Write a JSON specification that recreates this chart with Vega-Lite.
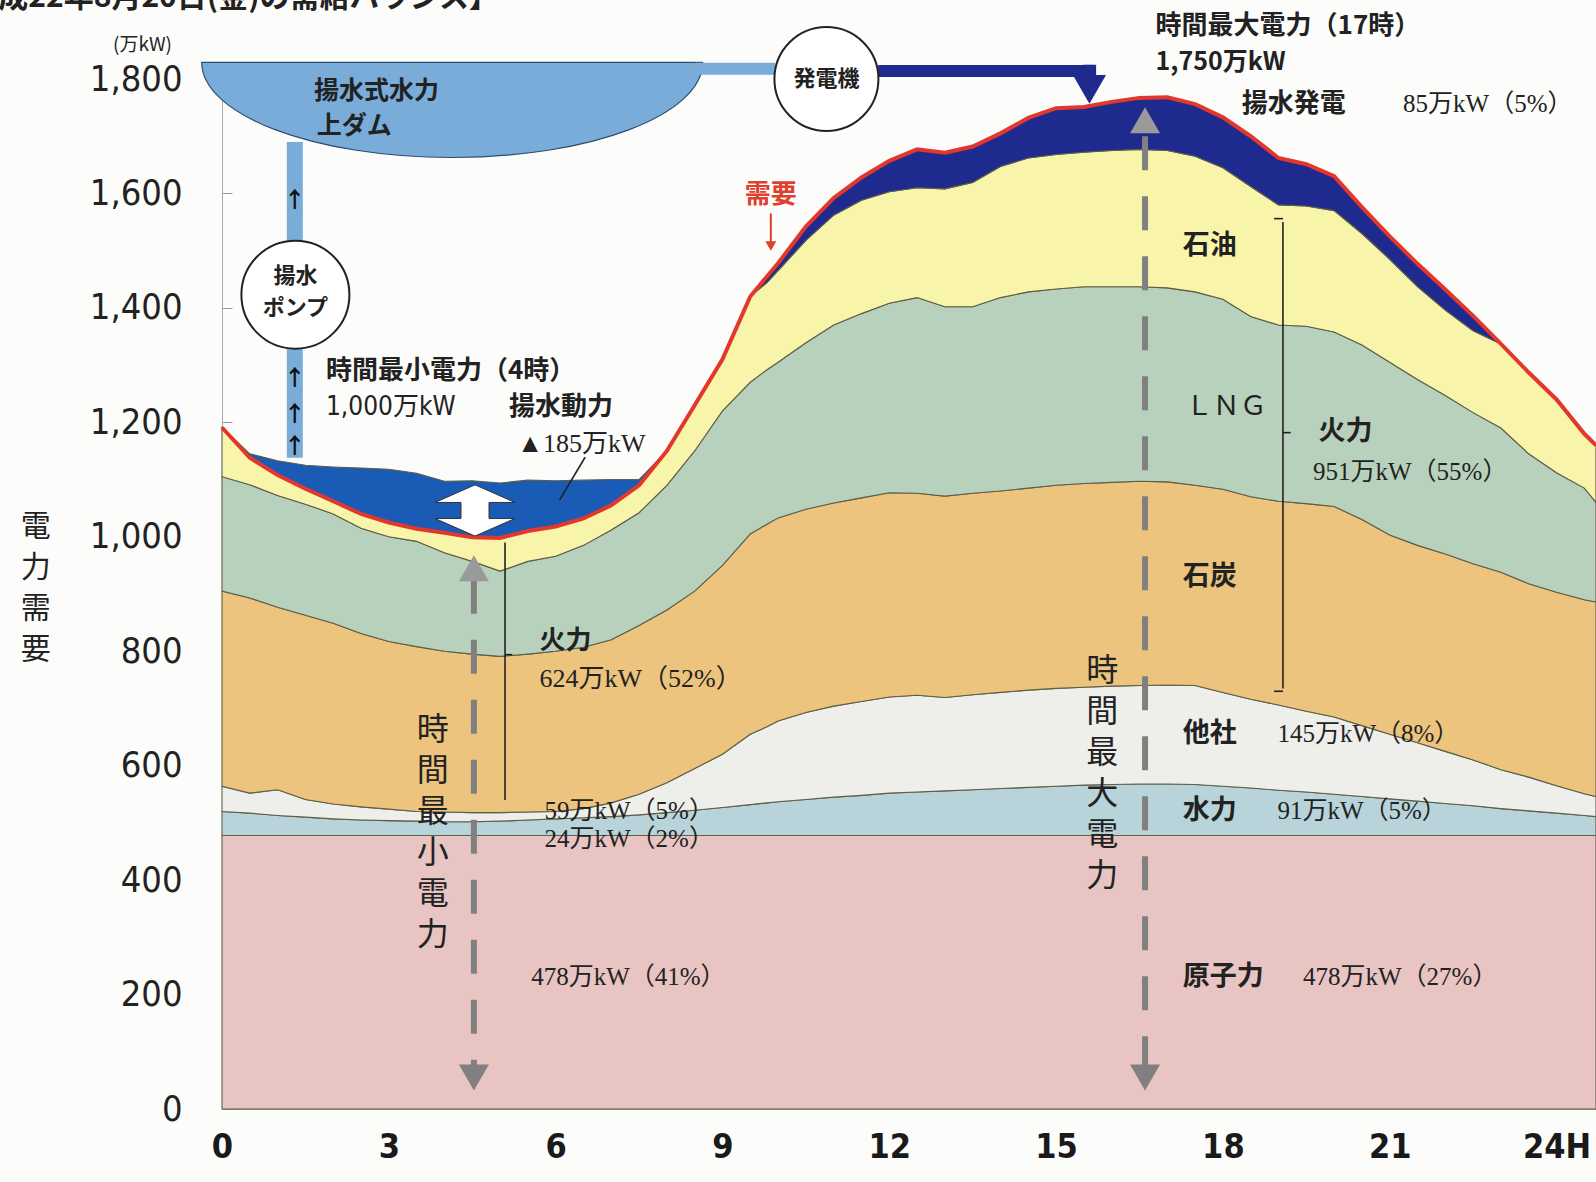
{
  "$schema": "https://vega.github.io/schema/vega-lite/v6.json",
  "width": 1374,
  "height": 1030,
  "autosize": {"type": "none"},
  "padding": {"left": 222, "top": 79, "right": 0, "bottom": 73},
  "background": "#fcfcfa",
  "datasets": {
    "grid": [
      {"h": 0, "原子力": 478, "水力": 42, "他社": 44, "石炭": 341, "LNG": 200, "石油": 86, "揚水発電": 0, "揚水動力": 0, "需要": 1191},
      {"h": 0.5, "原子力": 478, "水力": 39, "他社": 35, "石炭": 341, "LNG": 198, "石油": 47, "揚水発電": 0, "揚水動力": 7, "需要": 1138},
      {"h": 1, "原子力": 478, "水力": 35, "他社": 45, "石炭": 319, "LNG": 195, "石油": 36, "揚水発電": 0, "揚水動力": 25, "需要": 1108},
      {"h": 1.5, "原子力": 478, "水力": 32, "他社": 31, "石炭": 322, "LNG": 194, "石油": 27, "揚水発電": 0, "揚水動力": 41, "需要": 1084},
      {"h": 2, "原子力": 478, "水力": 29, "他社": 26, "石炭": 316, "LNG": 191, "石油": 22, "揚水発電": 0, "揚水動力": 60, "需要": 1062},
      {"h": 2.5, "原子力": 478, "水力": 27, "他社": 23, "石炭": 303, "LNG": 184, "石油": 25, "揚水発電": 0, "揚水動力": 80, "需要": 1040},
      {"h": 3, "原子力": 478, "水力": 26, "他社": 20, "石炭": 293, "LNG": 183, "石油": 25, "揚水発電": 0, "揚水動力": 93, "需要": 1025},
      {"h": 3.5, "原子力": 478, "水力": 25, "他社": 17, "石炭": 288, "LNG": 184, "石油": 22, "揚水発電": 0, "揚水動力": 97, "需要": 1014},
      {"h": 4, "原子力": 478, "水力": 24, "他社": 17, "石炭": 281, "LNG": 172, "石油": 35, "揚水発電": 0, "揚水動力": 90, "需要": 1007},
      {"h": 4.5, "原子力": 478, "水力": 24, "他社": 16, "石炭": 277, "LNG": 162, "石油": 42, "揚水発電": 0, "揚水動力": 99, "需要": 999},
      {"h": 5, "原子力": 478, "水力": 25, "他社": 15, "石炭": 273, "LNG": 149, "石油": 58, "揚水発電": 0, "揚水動力": 96, "需要": 998},
      {"h": 5.5, "原子力": 478, "水力": 27, "他社": 14, "石炭": 276, "LNG": 162, "石油": 53, "揚水発電": 0, "揚水動力": 89, "需要": 1010},
      {"h": 6, "原子力": 478, "水力": 29, "他社": 13, "石炭": 280, "LNG": 166, "石油": 52, "揚水発電": 0, "揚水動力": 80, "需要": 1018},
      {"h": 6.5, "原子力": 478, "水力": 31, "他社": 16, "石炭": 282, "LNG": 178, "石油": 47, "揚水発電": 0, "揚水動力": 67, "需要": 1032},
      {"h": 7, "原子力": 478, "水力": 33, "他社": 24, "石炭": 285, "LNG": 192, "石油": 43, "揚水発電": 0, "揚水動力": 45, "需要": 1055},
      {"h": 7.5, "原子力": 478, "水力": 36, "他社": 36, "石炭": 295, "LNG": 197, "石油": 48, "揚水発電": 0, "揚水動力": 10, "需要": 1090},
      {"h": 8, "原子力": 478, "水力": 40, "他社": 52, "石炭": 302, "LNG": 218, "石油": 60, "揚水発電": 0, "揚水動力": 0, "需要": 1150},
      {"h": 8.5, "原子力": 478, "水力": 44, "他社": 73, "石炭": 310, "LNG": 245, "石油": 80, "揚水発電": 0, "揚水動力": 0, "需要": 1230},
      {"h": 9, "原子力": 478, "水力": 49, "他社": 93, "石炭": 330, "LNG": 270, "石油": 90, "揚水発電": 0, "揚水動力": 0, "需要": 1310},
      {"h": 9.5, "原子力": 478, "水力": 54, "他社": 123, "石炭": 350, "LNG": 265, "石油": 150, "揚水発電": 0, "揚水動力": 0, "需要": 1420},
      {"h": 9.8, "原子力": 478, "水力": 57, "他社": 133, "石炭": 354, "LNG": 270, "石油": 152, "揚水発電": 11, "揚水動力": 0, "需要": 1455},
      {"h": 10, "原子力": 478, "水力": 59, "他社": 141, "石炭": 355, "LNG": 272, "石油": 160, "揚水発電": 13, "揚水動力": 0, "需要": 1478},
      {"h": 10.5, "原子力": 478, "水力": 63, "他社": 152, "石炭": 355, "LNG": 291, "石油": 179, "揚水発電": 24, "揚水動力": 0, "需要": 1542},
      {"h": 11, "原子力": 478, "水力": 67, "他社": 159, "石炭": 355, "LNG": 311, "石油": 192, "揚水発電": 30, "揚水動力": 0, "需要": 1592},
      {"h": 11.5, "原子力": 478, "水力": 70, "他社": 164, "石炭": 356, "LNG": 322, "石油": 198, "揚水発電": 40, "揚水動力": 0, "需要": 1628},
      {"h": 12, "原子力": 478, "水力": 74, "他社": 168, "石炭": 357, "LNG": 331, "石油": 195, "揚水発電": 54, "揚水動力": 0, "需要": 1657},
      {"h": 12.5, "原子力": 478, "水力": 76, "他社": 169, "石炭": 353, "LNG": 342, "石油": 192, "揚水発電": 67, "揚水動力": 0, "需要": 1677},
      {"h": 13, "原子力": 478, "水力": 78, "他社": 163, "石炭": 352, "LNG": 331, "石油": 206, "揚水発電": 63, "揚水動力": 0, "需要": 1671},
      {"h": 13.5, "原子力": 478, "水力": 80, "他社": 166, "石炭": 352, "LNG": 326, "石油": 217, "揚水発電": 63, "揚水動力": 0, "需要": 1682},
      {"h": 14, "原子力": 478, "水力": 82, "他社": 168, "石炭": 352, "LNG": 338, "石油": 229, "揚水発電": 58, "揚水動力": 0, "需要": 1705},
      {"h": 14.5, "原子力": 478, "水力": 84, "他社": 170, "石炭": 353, "LNG": 343, "石油": 234, "揚水発電": 70, "揚水動力": 0, "需要": 1732},
      {"h": 15, "原子力": 478, "水力": 86, "他社": 171, "石炭": 355, "LNG": 343, "石油": 235, "揚水発電": 81, "揚水動力": 0, "需要": 1749},
      {"h": 15.5, "原子力": 478, "水力": 88, "他社": 171, "石炭": 356, "LNG": 344, "石油": 235, "揚水発電": 79, "揚水動力": 0, "需要": 1751},
      {"h": 16, "原子力": 478, "水力": 89, "他社": 172, "石炭": 356, "LNG": 342, "石油": 238, "揚水発電": 85, "揚水動力": 0, "需要": 1760},
      {"h": 16.5, "原子力": 478, "水力": 90, "他社": 172, "石炭": 357, "LNG": 340, "石油": 240, "揚水発電": 90, "揚水動力": 0, "需要": 1767},
      {"h": 17, "原子力": 478, "水力": 90, "他社": 173, "石炭": 355, "LNG": 339, "石油": 240, "揚水発電": 93, "揚水動力": 0, "需要": 1768},
      {"h": 17.5, "原子力": 478, "水力": 89, "他社": 173, "石炭": 350, "LNG": 338, "石油": 237, "揚水発電": 91, "揚水動力": 0, "需要": 1756},
      {"h": 18, "原子力": 478, "水力": 86, "他社": 164, "石炭": 355, "LNG": 332, "石油": 230, "揚水発電": 88, "揚水動力": 0, "需要": 1733},
      {"h": 18.5, "原子力": 478, "水力": 83, "他社": 155, "石炭": 354, "LNG": 315, "石油": 227, "揚水発電": 88, "揚水動力": 0, "需要": 1700},
      {"h": 19, "原子力": 478, "水力": 79, "他社": 149, "石炭": 356, "LNG": 308, "石油": 210, "揚水発電": 82, "揚水動力": 0, "需要": 1662},
      {"h": 19.5, "原子力": 478, "水力": 76, "他社": 141, "石炭": 363, "LNG": 310, "石油": 210, "揚水発電": 73, "揚水動力": 0, "需要": 1651},
      {"h": 20, "原子力": 478, "水力": 72, "他社": 135, "石炭": 368, "LNG": 305, "石油": 212, "揚水発電": 60, "揚水動力": 0, "需要": 1630},
      {"h": 20.5, "原子力": 478, "水力": 68, "他社": 124, "石炭": 360, "LNG": 305, "石油": 195, "揚水発電": 46, "揚水動力": 0, "需要": 1576},
      {"h": 21, "原子力": 478, "水力": 64, "他社": 113, "石炭": 348, "LNG": 302, "石油": 180, "揚水発電": 40, "揚水動力": 0, "需要": 1525},
      {"h": 21.5, "原子力": 478, "水力": 60, "他社": 102, "石炭": 345, "LNG": 290, "石油": 162, "揚水発電": 40, "揚水動力": 0, "需要": 1477},
      {"h": 22, "原子力": 478, "水力": 56, "他社": 91, "石炭": 345, "LNG": 277, "石油": 149, "揚水発電": 36, "揚水動力": 0, "需要": 1432},
      {"h": 22.5, "原子力": 478, "水力": 52, "他社": 80, "石炭": 343, "LNG": 264, "石油": 143, "揚水発電": 26, "揚水動力": 0, "需要": 1386},
      {"h": 23, "原子力": 478, "水力": 47, "他社": 68, "石炭": 345, "LNG": 252, "石油": 147, "揚水発電": 0, "揚水動力": 0, "需要": 1337},
      {"h": 23.5, "原子力": 478, "水力": 43, "他社": 59, "石炭": 338, "LNG": 227, "石油": 142, "揚水発電": 0, "揚水動力": 0, "需要": 1287},
      {"h": 24, "原子力": 478, "水力": 39, "他社": 48, "石炭": 338, "LNG": 209, "石油": 128, "揚水発電": 0, "揚水動力": 0, "需要": 1240},
      {"h": 24.5, "原子力": 478, "水力": 35, "他社": 38, "石炭": 339, "LNG": 195, "石油": 95, "揚水発電": 0, "揚水動力": 0, "需要": 1180},
      {"h": 24.71, "原子力": 478, "水力": 33, "他社": 35, "石炭": 340, "LNG": 174, "石油": 100, "揚水発電": 0, "揚水動力": 0, "需要": 1160}
    ],
    "rank": [
      {"src": "原子力", "rank": 1},
      {"src": "水力", "rank": 2},
      {"src": "他社", "rank": 3},
      {"src": "石炭", "rank": 4},
      {"src": "LNG", "rank": 5},
      {"src": "石油", "rank": 6},
      {"src": "揚水発電", "rank": 7},
      {"src": "揚水動力", "rank": 8}
    ]
  },
  "layer": [
    {
      "data": {"name": "grid"},
      "transform": [
        {"fold": ["原子力", "水力", "他社", "石炭", "LNG", "石油", "揚水発電", "揚水動力"], "as": ["src", "mw"]},
        {"lookup": "src", "from": {"data": {"name": "rank"}, "key": "src", "fields": ["rank"]}}
      ],
      "mark": {"type": "area", "interpolate": "linear", "stroke": "#5f5f48", "strokeWidth": 1.1, "fillOpacity": 1},
      "encoding": {
        "x": {
          "field": "h", "type": "quantitative",
          "scale": {"domain": [0, 24.71], "nice": false, "zero": false},
          "title": null,
          "axis": {
            "values": [0, 1, 2, 3, 4, 5, 6, 7, 8, 9, 10, 11, 12, 13, 14, 15, 16, 17, 18, 19, 20, 21, 22, 23, 24],
            "labelExpr": "datum.value == 24 ? '24H' : (datum.value % 3 == 0 ? format(datum.value, 'd') : '')"
          }
        },
        "y": {
          "field": "mw", "type": "quantitative", "stack": "zero",
          "scale": {"domain": [0, 1800], "nice": false},
          "title": null,
          "axis": {
            "values": [0, 200, 400, 600, 800, 1000, 1200, 1400, 1600, 1800],
            "format": ",d"
          }
        },
        "color": {
          "field": "src", "type": "nominal", "legend": null,
          "scale": {
            "domain": ["原子力", "水力", "他社", "石炭", "LNG", "石油", "揚水発電", "揚水動力"],
            "range": ["#e8c4c3", "#b8d3d9", "#eeeeea", "#ecc47d", "#b8d1bc", "#f8f4aa", "#1e2a8e", "#1a5bb5"]
          }
        },
        "order": {"field": "rank", "type": "quantitative"}
      }
    },
    {
      "data": {"name": "grid"},
      "mark": {"type": "line", "color": "#e2372c", "strokeWidth": 4, "interpolate": "linear"},
      "encoding": {
        "x": {"field": "h", "type": "quantitative", "title": null},
        "y": {"field": "需要", "type": "quantitative", "title": null}
      }
    },
    {
      "data": {"values": [{}]},
      "layer": [
        {"mark": {"type": "point", "shape": "M-1,-0.19 L1,-0.19 A1,0.38 0 0 1 -1,-0.19 Z", "filled": true, "fill": "#79acd9", "stroke": "#2d4e72", "strokeWidth": 1.2, "size": 251001, "opacity": 1},
         "encoding": {"x": {"datum": 4.14}, "y": {"datum": 1746}}},
        {"mark": {"type": "rule", "color": "#79acd9", "strokeWidth": 12},
         "encoding": {"x": {"datum": 8.5}, "x2": {"datum": 9.95}, "y": {"datum": 1818}}},
        {"mark": {"type": "rule", "color": "#79acd9", "strokeWidth": 16},
         "encoding": {"x": {"datum": 1.31}, "y": {"datum": 1690}, "y2": {"datum": 1138}}},
        {"mark": {"type": "rule", "color": "#1e2a8e", "strokeWidth": 12},
         "encoding": {"x": {"datum": 11.8}, "x2": {"datum": 15.72}, "y": {"datum": 1814}}},
        {"mark": {"type": "rule", "color": "#1e2a8e", "strokeWidth": 12},
         "encoding": {"x": {"datum": 15.6}, "y": {"datum": 1825}, "y2": {"datum": 1790}}},
        {"mark": {"type": "point", "shape": "triangle-down", "filled": true, "color": "#1e2a8e", "size": 1100, "opacity": 1},
         "encoding": {"x": {"datum": 15.6}, "y": {"datum": 1782}}},
        {"mark": {"type": "point", "shape": "circle", "filled": true, "fill": "white", "stroke": "#222", "strokeWidth": 2, "size": 11664, "opacity": 1},
         "encoding": {"x": {"datum": 1.32}, "y": {"datum": 1423}}},
        {"mark": {"type": "point", "shape": "circle", "filled": true, "fill": "white", "stroke": "#222", "strokeWidth": 2, "size": 10816, "opacity": 1},
         "encoding": {"x": {"datum": 10.87}, "y": {"datum": 1800}}},
        {"mark": {"type": "point", "shape": "M0,-0.64 L1,-0.2 L0.35,-0.2 L0.35,0.2 L1,0.2 L0,0.64 L-1,0.2 L-0.35,0.2 L-0.35,-0.2 L-1,-0.2 Z", "filled": true, "fill": "white", "stroke": "#333", "strokeWidth": 1, "size": 6400, "opacity": 1},
         "encoding": {"x": {"datum": 4.55}, "y": {"datum": 1046}}},

        {"mark": {"type": "rule", "color": "#808080", "strokeWidth": 6, "strokeDash": [34, 26]},
         "encoding": {"x": {"datum": 4.53}, "y": {"datum": 925}, "y2": {"datum": 70}}},
        {"mark": {"type": "point", "shape": "triangle-up", "filled": true, "color": "#9a9a9a", "size": 900, "opacity": 1},
         "encoding": {"x": {"datum": 4.53}, "y": {"datum": 945}}},
        {"mark": {"type": "point", "shape": "triangle-down", "filled": true, "color": "#808080", "size": 900, "opacity": 1},
         "encoding": {"x": {"datum": 4.53}, "y": {"datum": 55}}},
        {"mark": {"type": "rule", "color": "#808080", "strokeWidth": 6, "strokeDash": [34, 26]},
         "encoding": {"x": {"datum": 16.6}, "y": {"datum": 1700}, "y2": {"datum": 70}}},
        {"mark": {"type": "point", "shape": "triangle-up", "filled": true, "color": "#9a9a9a", "size": 900, "opacity": 1},
         "encoding": {"x": {"datum": 16.6}, "y": {"datum": 1728}}},
        {"mark": {"type": "point", "shape": "triangle-down", "filled": true, "color": "#808080", "size": 900, "opacity": 1},
         "encoding": {"x": {"datum": 16.6}, "y": {"datum": 55}}},

        {"mark": {"type": "rule", "color": "#222", "strokeWidth": 1.6},
         "encoding": {"x": {"datum": 5.09}, "y": {"datum": 990}, "y2": {"datum": 540}}},
        {"mark": {"type": "rule", "color": "#222", "strokeWidth": 1.6},
         "encoding": {"x": {"datum": 5.09}, "x2": {"datum": 5.22}, "y": {"datum": 794}}},
        {"mark": {"type": "rule", "color": "#222", "strokeWidth": 1.6},
         "encoding": {"x": {"datum": 19.08}, "y": {"datum": 1550}, "y2": {"datum": 735}}},
        {"mark": {"type": "rule", "color": "#222", "strokeWidth": 1.6},
         "encoding": {"x": {"datum": 19.08}, "x2": {"datum": 19.22}, "y": {"datum": 1182}}},
        {"mark": {"type": "rule", "color": "#222", "strokeWidth": 1.6},
         "encoding": {"x": {"datum": 18.92}, "x2": {"datum": 19.08}, "y": {"datum": 1556}}},
        {"mark": {"type": "rule", "color": "#222", "strokeWidth": 1.6},
         "encoding": {"x": {"datum": 18.92}, "x2": {"datum": 19.08}, "y": {"datum": 730}}},
        {"mark": {"type": "rule", "color": "#222", "strokeWidth": 1.6},
         "encoding": {"x": {"datum": 6.53}, "y": {"datum": 1139}, "x2": {"datum": 6.07}, "y2": {"datum": 1064}}},
        {"mark": {"type": "rule", "color": "#e0402e", "strokeWidth": 2},
         "encoding": {"x": {"datum": 9.87}, "y": {"datum": 1565}, "y2": {"datum": 1515}}},
        {"mark": {"type": "point", "shape": "triangle-down", "filled": true, "color": "#e0402e", "size": 120, "opacity": 1},
         "encoding": {"x": {"datum": 9.87}, "y": {"datum": 1508}}},

        {"mark": {"type": "text", "text": "【平成22年8月20日(金)の需給バランス】", "align": "right", "baseline": "middle", "font": "Noto Sans CJK JP", "fontSize": 30, "fontWeight": "bold", "color": "#222"},
         "encoding": {"x": {"datum": 4.98}, "y": {"datum": 1941}}},
        {"mark": {"type": "text", "text": "(万kW)", "align": "center", "baseline": "middle", "font": "Noto Sans CJK JP", "fontSize": 19, "color": "#222"},
         "encoding": {"x": {"datum": -1.43}, "y": {"datum": 1859}}},
        {"mark": {"type": "text", "text": ["電", "力", "需", "要"], "lineHeight": 41, "align": "center", "baseline": "top", "font": "Noto Sans CJK JP", "fontSize": 30, "color": "#222"},
         "encoding": {"x": {"datum": -3.35}, "y": {"datum": 1044}}},
        {"mark": {"type": "text", "text": "揚水式水力", "align": "center", "baseline": "middle", "font": "Noto Sans CJK JP", "fontSize": 25, "fontWeight": "bold", "color": "#222"},
         "encoding": {"x": {"datum": 2.78}, "y": {"datum": 1779}}},
        {"mark": {"type": "text", "text": "上ダム", "align": "center", "baseline": "middle", "font": "Noto Sans CJK JP", "fontSize": 25, "fontWeight": "bold", "color": "#222"},
         "encoding": {"x": {"datum": 2.38}, "y": {"datum": 1717}}},
        {"mark": {"type": "text", "text": "揚水", "align": "center", "baseline": "middle", "font": "Noto Sans CJK JP", "fontSize": 22, "fontWeight": "bold", "color": "#222"},
         "encoding": {"x": {"datum": 1.32}, "y": {"datum": 1455}}},
        {"mark": {"type": "text", "text": "ポンプ", "align": "center", "baseline": "middle", "font": "Noto Sans CJK JP", "fontSize": 22, "fontWeight": "bold", "color": "#222"},
         "encoding": {"x": {"datum": 1.32}, "y": {"datum": 1400}}},
        {"mark": {"type": "text", "text": "発電機", "align": "center", "baseline": "middle", "font": "Noto Sans CJK JP", "fontSize": 22, "fontWeight": "bold", "color": "#222"},
         "encoding": {"x": {"datum": 10.87}, "y": {"datum": 1800}}},
        {"mark": {"type": "text", "text": "↑", "align": "center", "baseline": "middle", "font": "Noto Sans CJK JP", "fontSize": 22, "fontWeight": "bold", "color": "#111"},
         "encoding": {"x": {"datum": 1.31}, "y": {"datum": 1589}}},
        {"mark": {"type": "text", "text": "↑", "align": "center", "baseline": "middle", "font": "Noto Sans CJK JP", "fontSize": 22, "fontWeight": "bold", "color": "#111"},
         "encoding": {"x": {"datum": 1.31}, "y": {"datum": 1277}}},
        {"mark": {"type": "text", "text": "↑", "align": "center", "baseline": "middle", "font": "Noto Sans CJK JP", "fontSize": 22, "fontWeight": "bold", "color": "#111"},
         "encoding": {"x": {"datum": 1.31}, "y": {"datum": 1215}}},
        {"mark": {"type": "text", "text": "↑", "align": "center", "baseline": "middle", "font": "Noto Sans CJK JP", "fontSize": 22, "fontWeight": "bold", "color": "#111"},
         "encoding": {"x": {"datum": 1.31}, "y": {"datum": 1158}}},
        {"mark": {"type": "text", "text": "需要", "align": "center", "baseline": "middle", "font": "Noto Sans CJK JP", "fontSize": 26, "fontWeight": "bold", "color": "#e0402e"},
         "encoding": {"x": {"datum": 9.87}, "y": {"datum": 1597}}},
        {"mark": {"type": "text", "text": "時間最小電力（4時）", "align": "left", "baseline": "middle", "font": "Noto Sans CJK JP", "fontSize": 26, "fontWeight": "bold", "color": "#222"},
         "encoding": {"x": {"datum": 1.87}, "y": {"datum": 1290}}},
        {"mark": {"type": "text", "text": "1,000万kW", "align": "left", "baseline": "middle", "font": "DejaVu Sans Condensed, Noto Sans CJK JP", "fontSize": 26, "color": "#222"},
         "encoding": {"x": {"datum": 1.87}, "y": {"datum": 1227}}},
        {"mark": {"type": "text", "text": "揚水動力", "align": "left", "baseline": "middle", "font": "Noto Sans CJK JP", "fontSize": 26, "fontWeight": "bold", "color": "#222"},
         "encoding": {"x": {"datum": 5.16}, "y": {"datum": 1227}}},
        {"mark": {"type": "text", "text": "▲185万kW", "align": "left", "baseline": "middle", "font": "Liberation Serif, Noto Sans CJK JP", "fontSize": 26, "color": "#222"},
         "encoding": {"x": {"datum": 5.31}, "y": {"datum": 1162}}},
        {"mark": {"type": "text", "text": "火力", "align": "left", "baseline": "middle", "font": "Noto Sans CJK JP", "fontSize": 26, "fontWeight": "bold", "color": "#222"},
         "encoding": {"x": {"datum": 5.71}, "y": {"datum": 818}}},
        {"mark": {"type": "text", "text": "624万kW（52%）", "align": "left", "baseline": "middle", "font": "Liberation Serif, Noto Sans CJK JP", "fontSize": 26, "color": "#222"},
         "encoding": {"x": {"datum": 5.71}, "y": {"datum": 752}}},
        {"mark": {"type": "text", "text": "59万kW（5%）", "align": "left", "baseline": "middle", "font": "Liberation Serif, Noto Sans CJK JP", "fontSize": 25, "color": "#222"},
         "encoding": {"x": {"datum": 5.8}, "y": {"datum": 521}}},
        {"mark": {"type": "text", "text": "24万kW（2%）", "align": "left", "baseline": "middle", "font": "Liberation Serif, Noto Sans CJK JP", "fontSize": 25, "color": "#222"},
         "encoding": {"x": {"datum": 5.8}, "y": {"datum": 471}}},
        {"mark": {"type": "text", "text": "478万kW（41%）", "align": "left", "baseline": "middle", "font": "Liberation Serif, Noto Sans CJK JP", "fontSize": 25, "color": "#222"},
         "encoding": {"x": {"datum": 5.56}, "y": {"datum": 231}}},
        {"mark": {"type": "text", "text": ["時", "間", "最", "小", "電", "力"], "lineHeight": 41, "align": "center", "baseline": "top", "font": "Noto Sans CJK JP", "fontSize": 32, "color": "#222"},
         "encoding": {"x": {"datum": 3.79}, "y": {"datum": 688}}},
        {"mark": {"type": "text", "text": ["時", "間", "最", "大", "電", "力"], "lineHeight": 41, "align": "center", "baseline": "top", "font": "Noto Sans CJK JP", "fontSize": 32, "color": "#222"},
         "encoding": {"x": {"datum": 15.83}, "y": {"datum": 792}}},
        {"mark": {"type": "text", "text": "時間最大電力（17時）", "align": "left", "baseline": "middle", "font": "Noto Sans CJK JP", "fontSize": 26, "fontWeight": "bold", "color": "#222"},
         "encoding": {"x": {"datum": 16.79}, "y": {"datum": 1893}}},
        {"mark": {"type": "text", "text": "1,750万kW", "align": "left", "baseline": "middle", "font": "Noto Sans CJK JP", "fontSize": 25, "fontWeight": "bold", "color": "#222"},
         "encoding": {"x": {"datum": 16.79}, "y": {"datum": 1830}}},
        {"mark": {"type": "text", "text": "揚水発電", "align": "left", "baseline": "middle", "font": "Noto Sans CJK JP", "fontSize": 26, "fontWeight": "bold", "color": "#222"},
         "encoding": {"x": {"datum": 18.34}, "y": {"datum": 1756}}},
        {"mark": {"type": "text", "text": "85万kW（5%）", "align": "left", "baseline": "middle", "font": "Liberation Serif, Noto Sans CJK JP", "fontSize": 25, "color": "#222"},
         "encoding": {"x": {"datum": 21.24}, "y": {"datum": 1756}}},
        {"mark": {"type": "text", "text": "石油", "align": "left", "baseline": "middle", "font": "Noto Sans CJK JP", "fontSize": 27, "fontWeight": "bold", "color": "#222"},
         "encoding": {"x": {"datum": 17.28}, "y": {"datum": 1509}}},
        {"mark": {"type": "text", "text": "ＬＮＧ", "align": "left", "baseline": "middle", "font": "Noto Sans CJK JP", "fontSize": 27, "color": "#222"},
         "encoding": {"x": {"datum": 17.33}, "y": {"datum": 1227}}},
        {"mark": {"type": "text", "text": "火力", "align": "left", "baseline": "middle", "font": "Noto Sans CJK JP", "fontSize": 27, "fontWeight": "bold", "color": "#222"},
         "encoding": {"x": {"datum": 19.72}, "y": {"datum": 1183}}},
        {"mark": {"type": "text", "text": "951万kW（55%）", "align": "left", "baseline": "middle", "font": "Liberation Serif, Noto Sans CJK JP", "fontSize": 25, "color": "#222"},
         "encoding": {"x": {"datum": 19.62}, "y": {"datum": 1114}}},
        {"mark": {"type": "text", "text": "石炭", "align": "left", "baseline": "middle", "font": "Noto Sans CJK JP", "fontSize": 27, "fontWeight": "bold", "color": "#222"},
         "encoding": {"x": {"datum": 17.28}, "y": {"datum": 930}}},
        {"mark": {"type": "text", "text": "他社", "align": "left", "baseline": "middle", "font": "Noto Sans CJK JP", "fontSize": 27, "fontWeight": "bold", "color": "#222"},
         "encoding": {"x": {"datum": 17.28}, "y": {"datum": 655}}},
        {"mark": {"type": "text", "text": "145万kW（8%）", "align": "left", "baseline": "middle", "font": "Liberation Serif, Noto Sans CJK JP", "fontSize": 25, "color": "#222"},
         "encoding": {"x": {"datum": 18.98}, "y": {"datum": 655}}},
        {"mark": {"type": "text", "text": "水力", "align": "left", "baseline": "middle", "font": "Noto Sans CJK JP", "fontSize": 27, "fontWeight": "bold", "color": "#222"},
         "encoding": {"x": {"datum": 17.28}, "y": {"datum": 521}}},
        {"mark": {"type": "text", "text": "91万kW（5%）", "align": "left", "baseline": "middle", "font": "Liberation Serif, Noto Sans CJK JP", "fontSize": 25, "color": "#222"},
         "encoding": {"x": {"datum": 18.98}, "y": {"datum": 521}}},
        {"mark": {"type": "text", "text": "原子力", "align": "left", "baseline": "middle", "font": "Noto Sans CJK JP", "fontSize": 27, "fontWeight": "bold", "color": "#222"},
         "encoding": {"x": {"datum": 17.28}, "y": {"datum": 231}}},
        {"mark": {"type": "text", "text": "478万kW（27%）", "align": "left", "baseline": "middle", "font": "Liberation Serif, Noto Sans CJK JP", "fontSize": 25, "color": "#222"},
         "encoding": {"x": {"datum": 19.44}, "y": {"datum": 231}}}
      ]
    }
  ],
  "config": {
    "view": {"stroke": null},
    "axisX": {
      "labelFont": "DejaVu Sans Condensed, Noto Sans CJK JP",
      "labelFontSize": 34,
      "labelFontWeight": "bold",
      "labelColor": "#1a1a1a",
      "labelPadding": 30,
      "labelOverlap": false,
      "labelFlush": false,
      "tickSize": -9,
      "tickColor": "#8a8a8a",
      "domainColor": "#9a9a9a",
      "grid": false,
      "zindex": 1
    },
    "axisY": {
      "labelFont": "DejaVu Sans Condensed",
      "labelFontSize": 36,
      "labelColor": "#222",
      "labelPadding": 50,
      "labelOverlap": false,
      "labelFlush": false,
      "tickSize": -10,
      "tickColor": "#999",
      "domainColor": "#aaa",
      "grid": false,
      "zindex": 1
    }
  }
}
